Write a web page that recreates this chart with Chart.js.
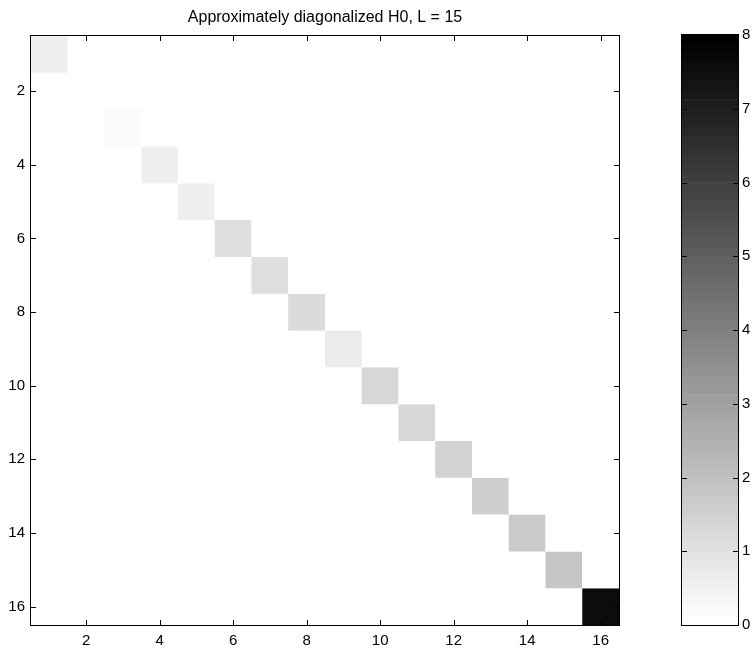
<!DOCTYPE html>
<html>
<head>
<meta charset="utf-8">
<script src="https://cdn.jsdelivr.net/npm/chart.js@4.4.0/dist/chart.umd.min.js"></script>
<style>
  body { margin: 0; background: #fff; }
  #wrap { position: relative; width: 755px; height: 650px; }
  #main { position: absolute; left: 0; top: 0; }
  #cbar { position: absolute; left: 660px; top: 0; }
</style>
</head>
<body>
<div id="wrap">
  <canvas id="main" width="660" height="650"></canvas>
  <canvas id="cbar" width="95" height="650"></canvas>
</div>
<script>
// Datos de la matriz (solo la diagonal es distinta de cero)
const chartTitle = 'Approximately diagonalized H0, L = 15';
const matrixSize = 16;
const diagValues = [0.56, 0, 0.19, 0.56, 0.56, 1.06, 1.06, 1.19, 0.69, 1.31, 1.31, 1.44, 1.56, 1.69, 1.81, 7.56];
const axisTicks = [2, 4, 6, 8, 10, 12, 14, 16];
const colorbarTicks = [0, 1, 2, 3, 4, 5, 6, 7, 8];
const colorMin = 0;
const colorMax = 8;
const colorLevels = 64;

const fontFamily = '"Liberation Sans", Arial, Helvetica, sans-serif';

// Mapa de grises invertido (blanco = 0, negro = max), 64 niveles
function levelGray(idx) {
    const g = Math.round(255 * (1 - idx / (colorLevels - 1)));
    return `rgb(${g},${g},${g})`;
}
function valueGray(v) {
    let idx = Math.floor((v - colorMin) / (colorMax - colorMin) * colorLevels);
    idx = Math.max(0, Math.min(colorLevels - 1, idx));
    return levelGray(idx);
}

// Construye la matriz completa a partir de la diagonal
const matrix = [];
for (let r = 0; r < matrixSize; r++) {
    const row = [];
    for (let c = 0; c < matrixSize; c++) row.push(r === c ? diagValues[r] : 0);
    matrix.push(row);
}

// Plugin: marco y marcas de graduación hacia dentro (estilo MATLAB)
const boxTicks = {
    id: 'boxTicks',
    afterDraw(chart, args, opts) {
        const { ctx, chartArea: a } = chart;
        const len = opts.length || 5;
        ctx.save();
        ctx.strokeStyle = '#000';
        ctx.lineWidth = 1;
        Object.values(chart.scales).forEach(scale => {
            if (!scale.options.display) return;
            scale.ticks.forEach(t => {
                if (t.value <= scale.min || t.value >= scale.max) return;
                const p = Math.round(scale.getPixelForValue(t.value)) + 0.5;
                ctx.beginPath();
                if (scale.isHorizontal()) {
                    ctx.moveTo(p, a.top); ctx.lineTo(p, a.top + len);
                    ctx.moveTo(p, a.bottom); ctx.lineTo(p, a.bottom - len);
                } else {
                    ctx.moveTo(a.left, p); ctx.lineTo(a.left + len, p);
                    ctx.moveTo(a.right, p); ctx.lineTo(a.right - len, p);
                }
                ctx.stroke();
            });
        });
        ctx.strokeRect(Math.round(a.left) - 0.5, Math.round(a.top) - 0.5,
            Math.round(a.right - a.left) + 1, Math.round(a.bottom - a.top) + 1);
        ctx.restore();
    }
};

// Gráfico principal: cada fila es un dataset de barras flotantes
const cellDatasets = matrix.map((row, r) => ({
    data: row.map((v, c) => ({ x: c + 1, y: [r + 0.5, r + 1.5] })),
    backgroundColor: row.map(valueGray),
    borderWidth: 0,
    inflateAmount: 0
}));

const tickFont = { family: fontFamily, size: 15 };

new Chart(document.getElementById('main'), {
    type: 'bar',
    data: { datasets: cellDatasets },
    options: {
        responsive: false,
        animation: false,
        grouped: false,
        categoryPercentage: 1,
        barPercentage: 1,
        layout: { padding: { left: 0, right: 41, top: 0, bottom: 0 } },
        scales: {
            x: {
                type: 'linear', min: 0.5, max: 16.5, offset: false,
                grid: { display: false, drawTicks: false },
                border: { display: false },
                ticks: { font: tickFont, color: '#000', padding: 7 },
                afterBuildTicks: s => { s.ticks = axisTicks.map(v => ({ value: v })); },
                afterFit: s => { s.height = 25; }
            },
            y: {
                type: 'linear', reverse: true, min: 0.5, max: 16.5,
                grid: { display: false, drawTicks: false },
                border: { display: false },
                ticks: { font: tickFont, color: '#000', padding: 6 },
                afterBuildTicks: s => { s.ticks = axisTicks.map(v => ({ value: v })); },
                afterFit: s => { s.width = 31; }
            }
        },
        plugins: {
            legend: { display: false },
            tooltip: { enabled: false },
            title: {
                display: true, text: chartTitle, fullSize: false, color: '#000',
                font: { family: fontFamily, size: 16, weight: 'normal' },
                padding: { top: 8, bottom: 8.8 }
            },
            boxTicks: { length: 5 }
        }
    },
    plugins: [boxTicks]
});

// Barra de color: 64 bandas apiladas
const bandDatasets = [];
for (let k = 0; k < colorLevels; k++) {
    const lo = colorMin + (colorMax - colorMin) * k / colorLevels;
    const hi = colorMin + (colorMax - colorMin) * (k + 1) / colorLevels;
    bandDatasets.push({ data: [[lo, hi]], backgroundColor: levelGray(k), borderWidth: 0 });
}

new Chart(document.getElementById('cbar'), {
    type: 'bar',
    data: { labels: [''], datasets: bandDatasets },
    options: {
        responsive: false,
        animation: false,
        grouped: false,
        categoryPercentage: 1,
        barPercentage: 1,
        layout: { padding: { left: 22, right: 0, top: 35, bottom: 25 } },
        scales: {
            x: { display: false },
            y: {
                position: 'right', min: colorMin, max: colorMax,
                grid: { display: false, drawTicks: false },
                border: { display: false },
                ticks: { font: tickFont, color: '#000', padding: 4 },
                afterBuildTicks: s => { s.ticks = colorbarTicks.map(v => ({ value: v })); },
                afterFit: s => { s.width = 17; }
            }
        },
        plugins: {
            legend: { display: false },
            tooltip: { enabled: false },
            boxTicks: { length: 5 }
        }
    },
    plugins: [boxTicks]
});
</script>
</body>
</html>
